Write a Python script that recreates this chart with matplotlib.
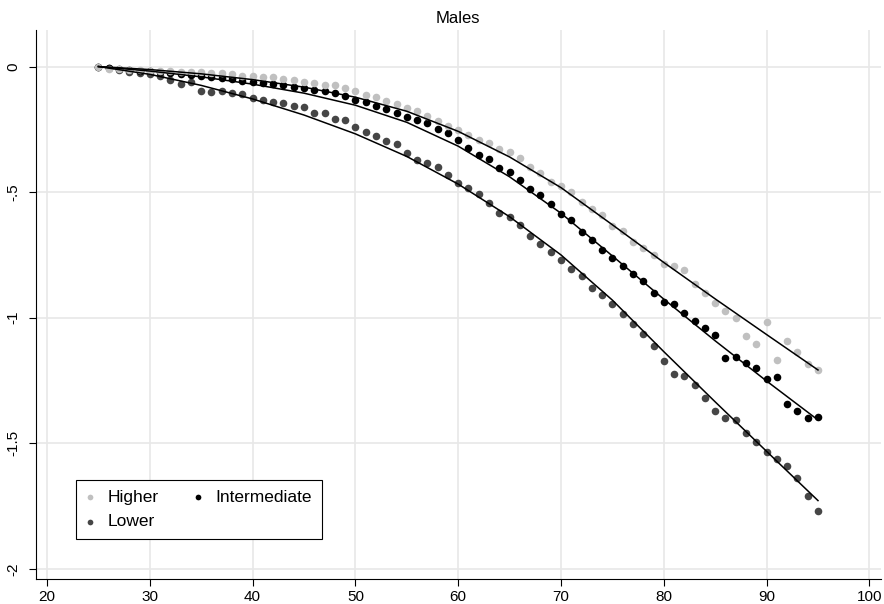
import matplotlib
matplotlib.use("Agg")
import matplotlib.pyplot as plt
import numpy as np

plt.rcParams['font.family'] = ['Liberation Sans', 'DejaVu Sans']

# ages 25..95, one point per year
ages = list(range(25, 96))

higher = [0.000, -0.009, -0.011, -0.014, -0.015, -0.017, -0.018, -0.019, -0.021, -0.022,
          -0.023, -0.025, -0.027, -0.031, -0.036, -0.037, -0.040, -0.043, -0.048, -0.054,
          -0.061, -0.067, -0.074, -0.075, -0.087, -0.099, -0.112, -0.123, -0.136, -0.150,
          -0.164, -0.177, -0.196, -0.217, -0.237, -0.254, -0.274, -0.293, -0.303, -0.330,
          -0.342, -0.366, -0.401, -0.424, -0.459, -0.476, -0.500, -0.538, -0.566, -0.591,
          -0.633, -0.653, -0.698, -0.721, -0.752, -0.787, -0.793, -0.809, -0.864, -0.900,
          -0.943, -0.973, -1.000, -1.072, -1.106, -1.016, -1.168, -1.094, -1.138, -1.185,
          -1.208]

intermediate = [0.000, -0.006, -0.010, -0.013, -0.016, -0.019, -0.022, -0.026, -0.029, -0.033,
                -0.037, -0.042, -0.046, -0.051, -0.056, -0.060, -0.064, -0.070, -0.075, -0.080,
                -0.085, -0.094, -0.098, -0.107, -0.116, -0.133, -0.140, -0.156, -0.168, -0.186,
                -0.200, -0.213, -0.226, -0.250, -0.266, -0.293, -0.323, -0.352, -0.370, -0.403,
                -0.421, -0.452, -0.489, -0.513, -0.549, -0.588, -0.612, -0.660, -0.692, -0.731,
                -0.762, -0.793, -0.824, -0.854, -0.903, -0.936, -0.947, -0.983, -1.013, -1.042,
                -1.069, -1.159, -1.155, -1.179, -1.201, -1.244, -1.237, -1.345, -1.371, -1.398,
                -1.394]

lower = [0.000, -0.006, -0.012, -0.022, -0.026, -0.029, -0.039, -0.054, -0.071, -0.063,
         -0.096, -0.101, -0.098, -0.105, -0.109, -0.126, -0.133, -0.141, -0.145, -0.156,
         -0.163, -0.184, -0.185, -0.208, -0.213, -0.242, -0.259, -0.276, -0.296, -0.310,
         -0.343, -0.371, -0.383, -0.400, -0.430, -0.462, -0.483, -0.509, -0.542, -0.584,
         -0.600, -0.631, -0.674, -0.708, -0.739, -0.769, -0.807, -0.835, -0.880, -0.908,
         -0.946, -0.984, -1.024, -1.064, -1.113, -1.171, -1.224, -1.232, -1.268, -1.318,
         -1.370, -1.398, -1.407, -1.457, -1.493, -1.536, -1.562, -1.589, -1.639, -1.708,
         -1.768]

# fitted curves, read every 5 years
fit_ages = [25, 30, 35, 40, 45, 50, 55, 60, 65, 70, 75, 80, 85, 90, 95]
fit_higher = [0.0, -0.012, -0.029, -0.052, -0.082, -0.122, -0.178, -0.258, -0.360,
              -0.482, -0.630, -0.780, -0.925, -1.067, -1.208]
fit_intermediate = [0.0, -0.018, -0.041, -0.070, -0.106, -0.154, -0.222, -0.317, -0.439,
                    -0.584, -0.754, -0.926, -1.092, -1.252, -1.407]
fit_lower = [0.0, -0.031, -0.075, -0.129, -0.193, -0.268, -0.358, -0.468, -0.598,
             -0.750, -0.930, -1.135, -1.335, -1.532, -1.728]

fig = plt.figure(figsize=(8.84, 6.04), dpi=100)
ax = fig.add_axes([0.0404, 0.0419, 0.9562, 0.9078])

ms = 30
ax.scatter(ages, lower, s=ms, color='#464646', linewidths=0, zorder=3, label='Lower')
ax.scatter(ages, intermediate, s=ms, color='black', linewidths=0, zorder=3, label='Intermediate')
ax.scatter(ages, higher, s=ms, color='#c0c0c0', linewidths=0, zorder=3, label='Higher')

for fit in (fit_higher, fit_intermediate, fit_lower):
    ax.plot(fit_ages, fit, color='black', lw=1.1, zorder=4, solid_joinstyle='round')

ax.set_xlim(18.9, 101.13)
ax.set_ylim(-2.039, 0.144)
ax.set_xticks(range(20, 101, 10))
ax.set_yticks([0, -0.5, -1, -1.5, -2])
ax.set_yticklabels(['0', '-.5', '-1', '-1.5', '-2'], rotation=90, va='center')
ax.grid(True, color='#e8e8e8', lw=1.2, zorder=0)
ax.set_axisbelow(True)
for s in ('top', 'right'):
    ax.spines[s].set_visible(False)
ax.tick_params(axis='both', length=5, width=0.8, labelsize=11, direction='out')
ax.tick_params(axis='y', pad=6)

ax.set_title('Males', fontsize=12, pad=5)

h, l = ax.get_legend_handles_labels()
order = [2, 0, 1]  # Higher, Lower | Intermediate
leg = ax.legend([h[i] for i in order], [l[i] for i in order], ncol=2,
                loc='lower left', bbox_to_anchor=(0.0477, 0.0724), borderaxespad=0,
                fontsize=12.5, fancybox=False, edgecolor='black', framealpha=1,
                handlelength=0.5, handletextpad=0.77, columnspacing=2.0,
                borderpad=0.55, labelspacing=0.55, markerscale=0.75)
leg.get_frame().set_linewidth(0.8)

fig.savefig('out.png', dpi=100)
